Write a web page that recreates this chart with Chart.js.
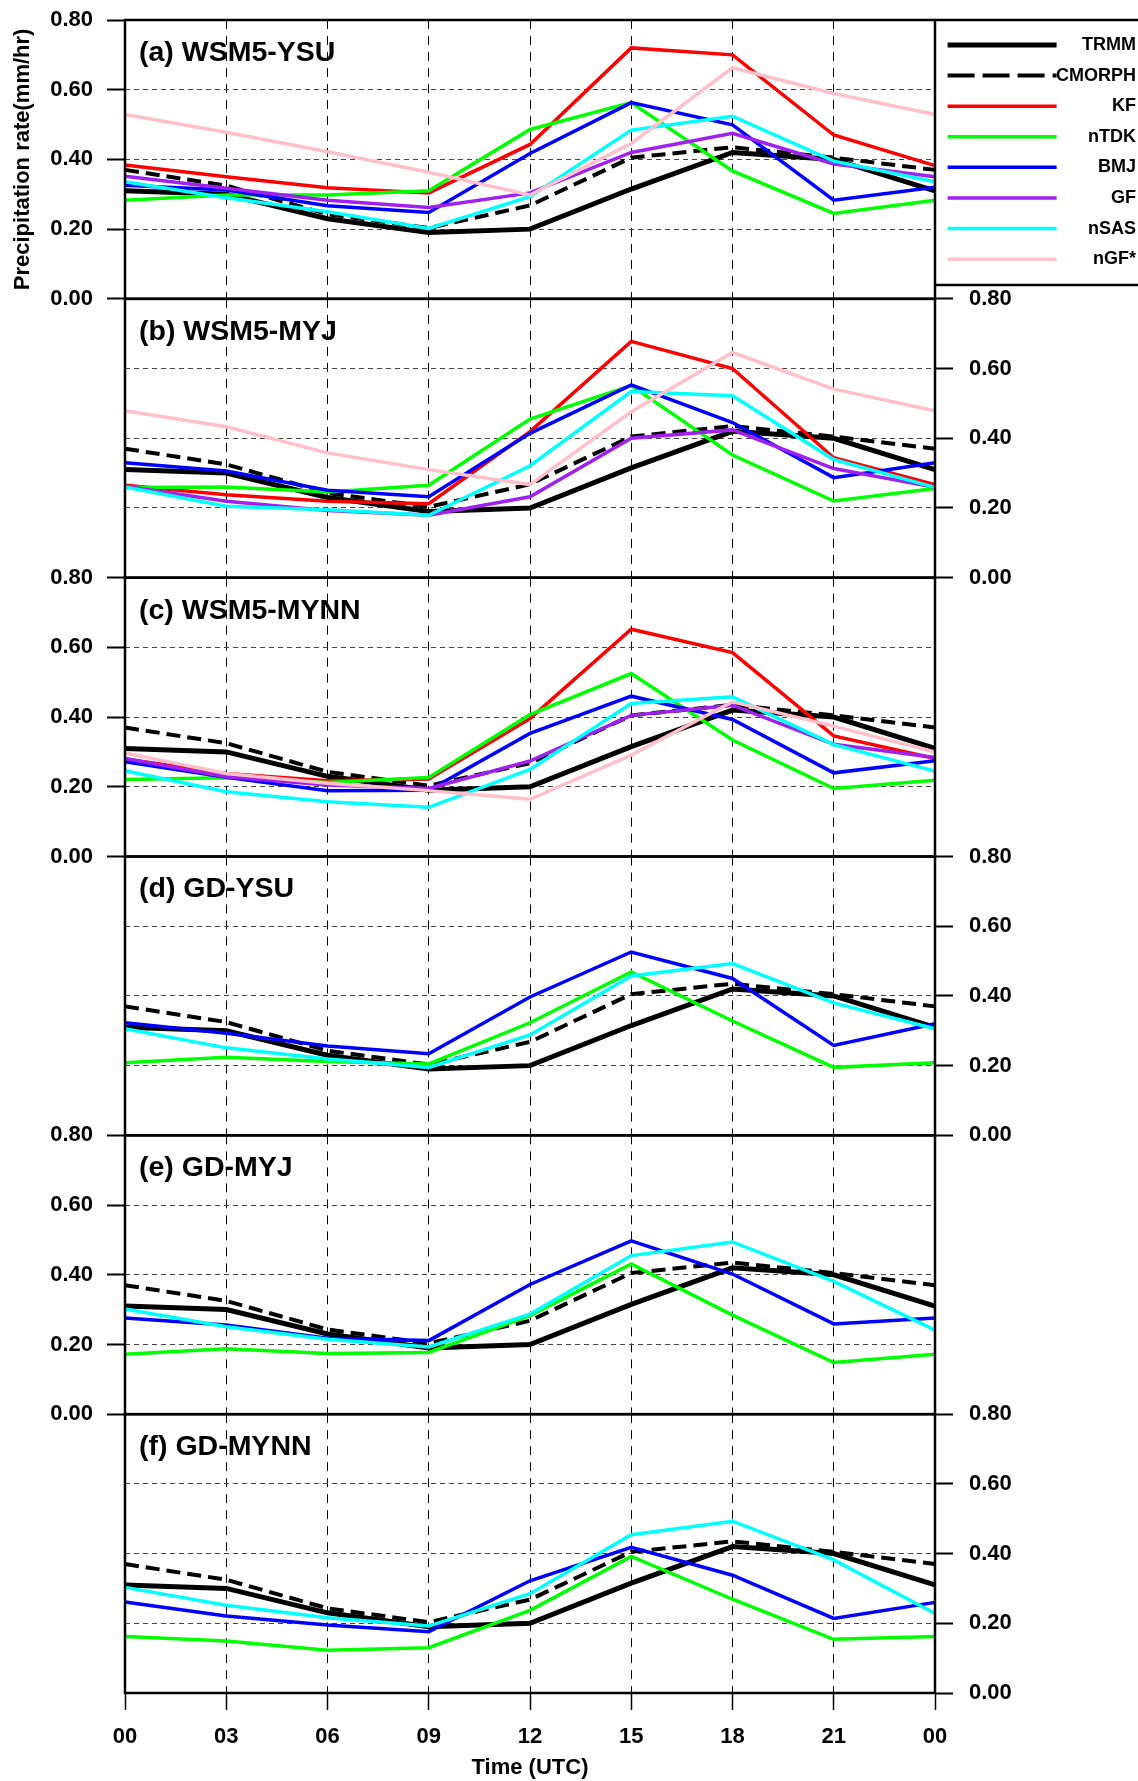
<!DOCTYPE html>
<html>
<head>
<meta charset="utf-8">
<script src="https://cdn.jsdelivr.net/npm/chart.js@4.4.1/dist/chart.umd.min.js"></script>
<style>
body { margin: 0; background: #fff; }
#wrap { position: relative; width: 1138px; height: 1781px; background: #fff; }
#wrap canvas { position: absolute; left: 0; top: 0; }
</style>
</head>
<body>
<div id="wrap"></div>
<script>
// time axis (UTC hours)
var hours = ['00', '03', '06', '09', '12', '15', '18', '21', '00'];

// observations, same in every panel
var TRMM   = [0.31, 0.30, 0.23, 0.19, 0.20, 0.315, 0.42, 0.40, 0.31];
var CMORPH = [0.37, 0.325, 0.243, 0.203, 0.268, 0.405, 0.435, 0.405, 0.37];

// (a) WSM5-YSU
var KF_a   = [0.384, 0.35, 0.319, 0.304, 0.443, 0.72, 0.70, 0.47, 0.382];
var nTDK_a = [0.283, 0.298, 0.298, 0.31, 0.486, 0.563, 0.367, 0.245, 0.283];
var BMJ_a  = [0.326, 0.312, 0.267, 0.248, 0.417, 0.563, 0.499, 0.283, 0.32];
var GF_a   = [0.352, 0.317, 0.283, 0.262, 0.304, 0.42, 0.475, 0.387, 0.35];
var nSAS_a = [0.336, 0.29, 0.25, 0.202, 0.293, 0.484, 0.524, 0.395, 0.336];
var nGF_a  = [0.529, 0.478, 0.422, 0.363, 0.298, 0.446, 0.663, 0.589, 0.529];

// (b) WSM5-MYJ
var KF_b   = [0.265, 0.238, 0.219, 0.212, 0.419, 0.678, 0.60, 0.344, 0.267];
var nTDK_b = [0.259, 0.26, 0.246, 0.265, 0.455, 0.551, 0.352, 0.22, 0.256];
var BMJ_b  = [0.33, 0.306, 0.251, 0.232, 0.414, 0.553, 0.445, 0.287, 0.33];
var GF_b   = [0.262, 0.219, 0.193, 0.179, 0.232, 0.40, 0.424, 0.313, 0.259];
var nSAS_b = [0.26, 0.205, 0.195, 0.179, 0.321, 0.534, 0.522, 0.339, 0.259];
var nGF_b  = [0.479, 0.433, 0.358, 0.31, 0.267, 0.476, 0.646, 0.541, 0.479];

// (c) WSM5-MYNN
var KF_c   = [0.28, 0.238, 0.217, 0.222, 0.396, 0.652, 0.585, 0.346, 0.281];
var nTDK_c = [0.221, 0.226, 0.212, 0.227, 0.407, 0.525, 0.334, 0.195, 0.219];
var BMJ_c  = [0.272, 0.227, 0.189, 0.19, 0.353, 0.46, 0.393, 0.24, 0.275];
var GF_c   = [0.281, 0.229, 0.205, 0.195, 0.274, 0.405, 0.434, 0.322, 0.284];
var nSAS_c = [0.246, 0.186, 0.157, 0.141, 0.25, 0.439, 0.458, 0.321, 0.245];
var nGF_c  = [0.297, 0.238, 0.21, 0.189, 0.164, 0.291, 0.444, 0.374, 0.30];

// (d) GD-YSU
var nTDK_d = [0.208, 0.224, 0.212, 0.205, 0.323, 0.469, 0.328, 0.195, 0.208];
var BMJ_d  = [0.323, 0.293, 0.256, 0.234, 0.397, 0.526, 0.45, 0.258, 0.32];
var nSAS_d = [0.306, 0.251, 0.219, 0.195, 0.288, 0.457, 0.493, 0.38, 0.306];

// (e) GD-MYJ
var nTDK_e = [0.172, 0.188, 0.174, 0.177, 0.283, 0.431, 0.284, 0.148, 0.172];
var BMJ_e  = [0.276, 0.256, 0.218, 0.211, 0.372, 0.497, 0.402, 0.259, 0.276];
var nSAS_e = [0.302, 0.251, 0.215, 0.193, 0.287, 0.455, 0.494, 0.381, 0.241];

// (f) GD-MYNN
var nTDK_f = [0.162, 0.149, 0.123, 0.13, 0.237, 0.392, 0.269, 0.154, 0.162];
var BMJ_f  = [0.261, 0.221, 0.195, 0.176, 0.322, 0.418, 0.338, 0.214, 0.26];
var nSAS_f = [0.303, 0.252, 0.216, 0.192, 0.285, 0.454, 0.493, 0.382, 0.228];

var yTicks = [0, 0.2, 0.4, 0.6, 0.8];

var styles = [
	{label: 'TRMM',   color: '#000000', width: 5,   dash: [],      legendDash: []},
	{label: 'CMORPH', color: '#000000', width: 4,   dash: [14, 7], legendDash: [27, 8]},
	{label: 'KF',     color: '#ff0000', width: 3.5, dash: [],      legendDash: []},
	{label: 'nTDK',   color: '#00ff00', width: 3.5, dash: [],      legendDash: []},
	{label: 'BMJ',    color: '#0000ff', width: 3.5, dash: [],      legendDash: []},
	{label: 'GF',     color: '#a020f0', width: 3.5, dash: [],      legendDash: []},
	{label: 'nSAS',   color: '#00ffff', width: 3.5, dash: [],      legendDash: []},
	{label: 'nGF*',   color: '#ffc0cb', width: 3.5, dash: [],      legendDash: []}
];

var panels = [
	{title: '(a) WSM5-YSU',  series: [TRMM, CMORPH, KF_a, nTDK_a, BMJ_a, GF_a, nSAS_a, nGF_a]},
	{title: '(b) WSM5-MYJ',  series: [TRMM, CMORPH, KF_b, nTDK_b, BMJ_b, GF_b, nSAS_b, nGF_b]},
	{title: '(c) WSM5-MYNN', series: [TRMM, CMORPH, KF_c, nTDK_c, BMJ_c, GF_c, nSAS_c, nGF_c]},
	{title: '(d) GD-YSU',    series: [TRMM, CMORPH, null, nTDK_d, BMJ_d, null, nSAS_d, null]},
	{title: '(e) GD-MYJ',    series: [TRMM, CMORPH, null, nTDK_e, BMJ_e, null, nSAS_e, null]},
	{title: '(f) GD-MYNN',   series: [TRMM, CMORPH, null, nTDK_f, BMJ_f, null, nSAS_f, null]}
];

var W = 1138, H = 1781;
var TOP = 20, BOTTOM = 1693, LEFT = 125, RIGHT = 935;
var PH = (BOTTOM - TOP) / panels.length;
var LEGEND_W = 201;
var FONT = '"Liberation Sans", Arial, Helvetica, sans-serif';

Chart.defaults.font.family = FONT;
Chart.defaults.font.weight = 'bold';
Chart.defaults.color = '#000';

// box round each panel, panel label, and box round the legend
var framePlugin = {
	id: 'frame',
	afterDraw: function(chart, args, opts) {
		var ctx = chart.ctx, a = chart.chartArea;
		ctx.save();
		ctx.setLineDash([]);
		ctx.strokeStyle = '#000';
		ctx.lineWidth = 2.5;
		ctx.strokeRect(a.left, a.top, a.right - a.left, a.bottom - a.top);
		if (opts.legendBox) {
			ctx.beginPath();
			ctx.moveTo(a.right, a.top);
			ctx.lineTo(chart.width, a.top);
			ctx.moveTo(a.right, a.top + 265);
			ctx.lineTo(chart.width, a.top + 265);
			ctx.stroke();
		}
		ctx.font = 'bold 28.5px ' + FONT;
		ctx.fillStyle = '#000';
		ctx.textAlign = 'left';
		ctx.textBaseline = 'middle';
		ctx.fillText(opts.text, a.left + 14, a.top + 33);
		ctx.restore();
	}
};

var wrap = document.getElementById('wrap');

panels.forEach(function(p, i) {
	var top = TOP + i * PH;
	var bottom = top + PH;
	var leftAxis = (i % 2 === 0);
	var last = (i === panels.length - 1);

	var canvas = document.createElement('canvas');
	canvas.width = W;
	canvas.height = H;
	wrap.appendChild(canvas);

	var datasets = [];
	p.series.forEach(function(vals, k) {
		if (!vals) return;
		var s = styles[k];
		datasets.push({
			label: s.label,
			data: vals,
			borderColor: s.color,
			backgroundColor: s.color,
			borderWidth: s.width,
			borderDash: s.dash,
			legendDash: s.legendDash,
			pointRadius: 0,
			tension: 0,
			fill: false,
			order: 10 - k
		});
	});

	var padRight;
	if (leftAxis) padRight = (i === 0) ? W - RIGHT - LEGEND_W : W - RIGHT;
	else padRight = W - RIGHT - 100;

	new Chart(canvas, {
		type: 'line',
		data: {labels: hours, datasets: datasets},
		options: {
			responsive: false,
			animation: false,
			devicePixelRatio: 1,
			events: [],
			layout: {
				padding: {
					left: leftAxis ? 10 : LEFT,
					right: padRight,
					top: top,
					bottom: last ? 0 : H - bottom
				}
			},
			scales: {
				x: {
					type: 'category',
					offset: false,
					afterFit: function(s) {
						s.height = last ? H - BOTTOM : 0;
						s.paddingLeft = 0;
						s.paddingRight = 0;
					},
					ticks: {
						display: last,
						autoSkip: false,
						maxRotation: 0,
						padding: 14,
						color: '#000',
						font: {size: 22, weight: 'bold'}
					},
					grid: {
						color: '#000',
						lineWidth: 1,
						drawTicks: last,
						tickLength: 17,
						tickColor: '#000',
						tickWidth: 1.5
					},
					border: {display: false, dash: [9, 7]},
					title: {
						display: last,
						text: 'Time (UTC)',
						color: '#000',
						padding: 0,
						font: {size: 22, weight: 'bold'}
					}
				},
				y: {
					position: leftAxis ? 'left' : 'right',
					min: yTicks[0],
					max: yTicks[yTicks.length - 1],
					afterFit: function(s) {
						s.width = leftAxis ? LEFT - 10 : 100;
						s.paddingTop = 0;
						s.paddingBottom = 0;
					},
					afterBuildTicks: function(s) {
						s.ticks = yTicks.map(function(v) { return {value: v}; });
					},
					ticks: {
						padding: leftAxis ? 14 : 16,
						color: '#000',
						font: {size: 22, weight: 'bold'},
						callback: function(v) { return Number(v).toFixed(2); }
					},
					grid: {
						color: '#444',
						lineWidth: 1,
						drawTicks: true,
						tickLength: 18,
						tickColor: '#000',
						tickWidth: 2
					},
					border: {display: false, dash: [5, 4]},
					title: {
						display: i === 0,
						text: 'Precipitation rate(mm/hr)',
						color: '#000',
						padding: 0,
						font: {size: 22, weight: 'bold'}
					}
				}
			},
			plugins: {
				frame: {text: p.title, legendBox: i === 0},
				tooltip: {enabled: false},
				legend: {
					display: i === 0,
					position: 'right',
					align: 'start',
					fullSize: false,
					maxWidth: LEGEND_W,
					title: {display: true, text: '', padding: 0, font: {size: 2.8}},
					labels: {
						usePointStyle: true,
						pointStyle: 'line',
						pointStyleWidth: 109,
						padding: 12.6,
						textAlign: 'right',
						color: '#000',
						font: {size: 18, weight: 'bold'},
						sort: function(a, b) { return a.datasetIndex - b.datasetIndex; },
						generateLabels: function(chart) {
							var items = Chart.defaults.plugins.legend.labels.generateLabels(chart);
							items.forEach(function(it) {
								var ds = chart.data.datasets[it.datasetIndex];
								it.lineDash = ds.legendDash;
								it.lineWidth = ds.borderWidth;
								it.strokeStyle = ds.borderColor;
							});
							return items;
						}
					}
				}
			}
		},
		plugins: [framePlugin]
	});
});
</script>
</body>
</html>
